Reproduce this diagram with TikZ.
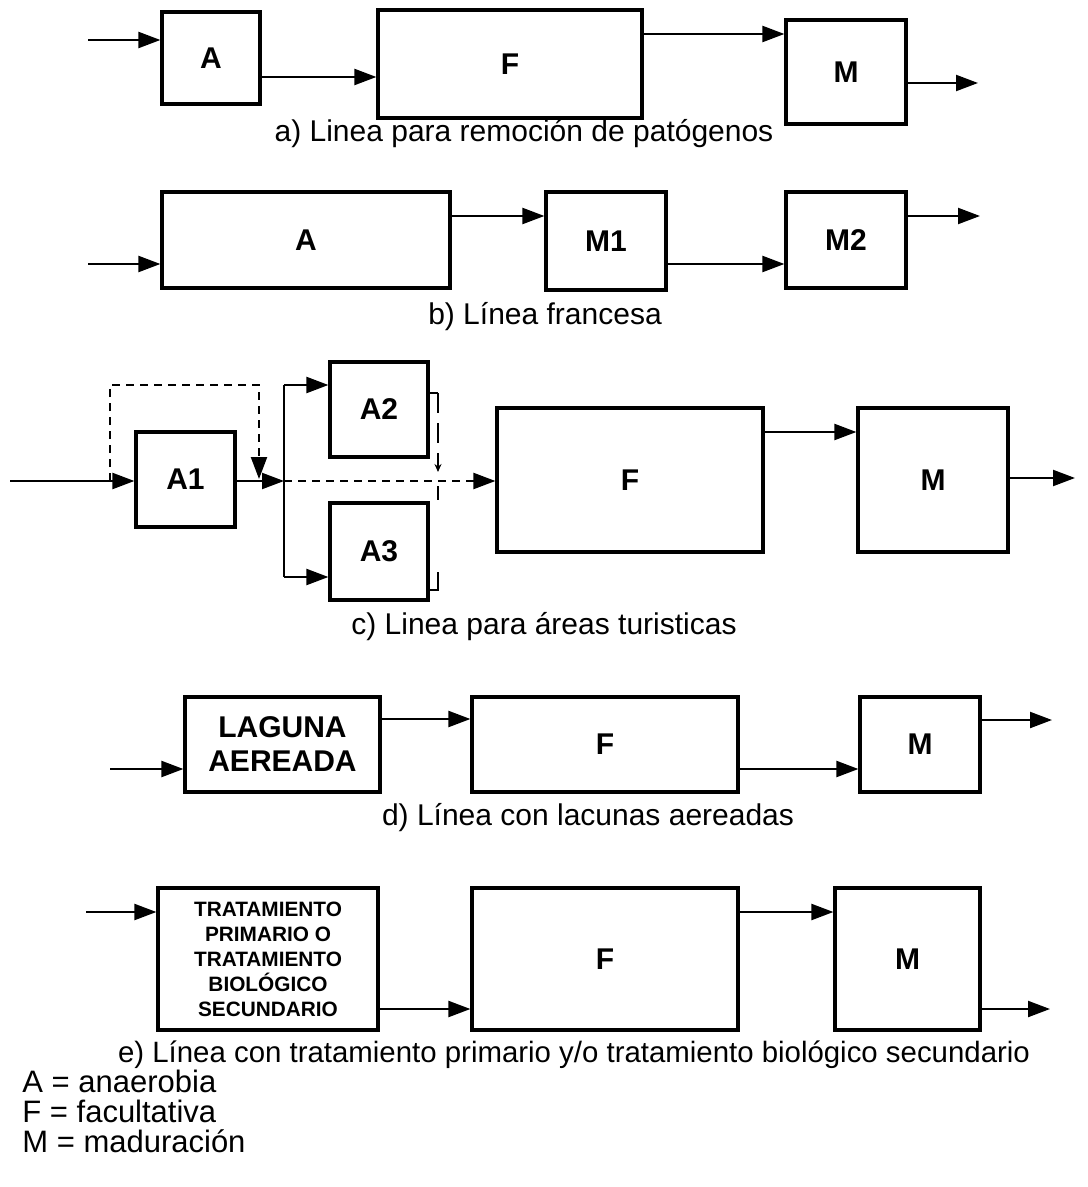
\documentclass[tikz,border=0pt]{standalone}
\usepackage{fontspec}
\setmainfont{Liberation Sans}
\usetikzlibrary{arrows.meta}
\begin{document}
\begin{tikzpicture}[x=0.5pt,y=-0.5pt,
  box/.style={draw, line width=1.6pt, inner sep=0pt, align=center, font=\fontsize{15}{17}\selectfont\bfseries},
  arr/.style={line width=1.1pt, -{Triangle[length=11pt,width=8pt]}},
  ln/.style={line width=1.1pt},
  dsh/.style={line width=1.1pt, dash pattern=on 4pt off 3pt},
  captext/.style={font=\fontsize{15}{18}\selectfont},
  leg/.style={font=\fontsize{15.5}{18}\selectfont, anchor=west, inner sep=0pt},
]
\path[use as bounding box] (0,0) rectangle (1087,1187);

% ---------- a ----------
\node[box, minimum width=49pt, minimum height=46pt] (aA) at (211,58) {A};
\node[box, minimum width=132pt, minimum height=54pt] (aF) at (510,64) {F};
\node[box, minimum width=60pt, minimum height=52pt] (aM) at (846,72) {M};
\coordinate (ain) at (88,40);
\coordinate (aout) at (978,83);
\draw[arr] (ain) -- (aA.west |- ain);
\draw[arr] (aA.east |- 0,77) -- (aF.west |- 0,77);
\draw[arr] (aF.east |- 0,34) -- (aM.west |- 0,34);
\draw[arr] (aM.east |- aout) -- (aout);
\node[captext] (acap) at (524,134) {a) Linea para remoción de patógenos};

% ---------- b ----------
\node[box, minimum width=144pt, minimum height=48pt] (bA) at (306,240) {A};
\node[box, minimum width=60pt, minimum height=49pt] (bM1) at (606,241) {M1};
\node[box, minimum width=60pt, minimum height=48pt] (bM2) at (846,240) {M2};
\coordinate (bin) at (88,264);
\coordinate (bout) at (980,216);
\draw[arr] (bin) -- (bA.west |- bin);
\draw[arr] (bA.east |- 0,216) -- (bM1.west |- 0,216);
\draw[arr] (bM1.east |- 0,264) -- (bM2.west |- 0,264);
\draw[arr] (bM2.east |- bout) -- (bout);
\node[captext] (bcap) at (545,317) {b) Línea francesa};

% ---------- c ----------
\node[box, minimum width=49.5pt, minimum height=47.5pt] (cA1) at (185.5,479.5) {A1};
\node[box, minimum width=49pt, minimum height=47.5pt] (cA2) at (379,409.5) {A2};
\node[box, minimum width=49pt, minimum height=48.5pt] (cA3) at (379,551.5) {A3};
\node[box, minimum width=133pt, minimum height=72pt] (cF) at (630,480) {F};
\node[box, minimum width=75pt, minimum height=72pt] (cM) at (933,480) {M};
\coordinate (cin) at (10,481);
\coordinate (cj) at (284,481);
\coordinate (cjt) at (284,385);
\coordinate (cjb) at (284,577);
\coordinate (cloop) at (110,481);
\coordinate (cout) at (1075,478);
\draw[arr] (cin) -- (cA1.west |- cin);
\draw[dsh, -{Triangle[length=11pt,width=8pt]}] (cloop) -- (110,385) -- (259,385) -- (259,479);
\draw[arr] (cA1.east |- cj) -- (cj);
\draw[ln] (cjt) -- (cjb);
\draw[arr] (cjt) -- (cA2.west |- cjt);
\draw[arr] (cjb) -- (cA3.west |- cjb);
\draw[dsh, -{Triangle[length=11pt,width=8pt]}] (cj) -- (cF.west |- cj);
\draw[arr] (cF.east |- 0,432) -- (cM.west |- 0,432);
\draw[arr] (cM.east |- cout) -- (cout);
% small stubs on the right of A2 and A3
\draw[line width=0.8pt] (cA2.east |- 0,393) -- (438,393);
\draw[line width=0.8pt, dash pattern=on 10pt off 5pt, -{Stealth[length=4pt,width=3.5pt]}] (438,393) -- (438,472);
\draw[line width=0.8pt] (cA3.east |- 0,590) -- (438,590) -- (438,572);
\draw[line width=0.6pt] (438,486) -- (438,500);
\node[captext] (ccap) at (544,627) {c) Linea para áreas turisticas};

% ---------- d ----------
\node[box, minimum width=97.5pt, minimum height=47.5pt, font=\fontsize{15}{17}\selectfont\bfseries] (dL) at (282.5,744.5) {LAGUNA\\AEREADA};
\node[box, minimum width=133pt, minimum height=47.5pt] (dF) at (605,744.5) {F};
\node[box, minimum width=60pt, minimum height=47.5pt] (dM) at (920,744.5) {M};
\coordinate (din) at (110,769);
\coordinate (dout) at (1052,720);
\draw[arr] (din) -- (dL.west |- din);
\draw[arr] (dL.east |- 0,719) -- (dF.west |- 0,719);
\draw[arr] (dF.east |- 0,769) -- (dM.west |- 0,769);
\draw[arr] (dM.east |- dout) -- (dout);
\node[captext] (dcap) at (588,818) {d) Línea con lacunas aereadas};

% ---------- e ----------
\node[box, minimum width=110pt, minimum height=71pt, font=\fontsize{10.4}{12.5}\selectfont\bfseries] (eT) at (268,959) {TRATAMIENTO\\PRIMARIO O\\TRATAMIENTO\\BIOLÓGICO\\SECUNDARIO};
\node[box, minimum width=133pt, minimum height=71pt] (eF) at (605,959) {F};
\node[box, minimum width=72.5pt, minimum height=71pt] (eM) at (907.5,959) {M};
\coordinate (ein) at (86,912);
\coordinate (eout) at (1050,1009);
\draw[arr] (ein) -- (eT.west |- ein);
\draw[arr] (eT.east |- 0,1009) -- (eF.west |- 0,1009);
\draw[arr] (eF.east |- 0,912) -- (eM.west |- 0,912);
\draw[arr] (eM.east |- eout) -- (eout);
\node[captext, font=\fontsize{14.7}{18}\selectfont] (ecap) at (574,1055) {e) Línea con tratamiento primario y/o tratamiento biológico secundario};

% ---------- legend ----------
\node[leg] (lA) at (22,1081) {A = anaerobia};
\node[leg] (lF) at (22,1111) {F = facultativa};
\node[leg] (lM) at (22,1141) {M = maduración};
\end{tikzpicture}
\end{document}
